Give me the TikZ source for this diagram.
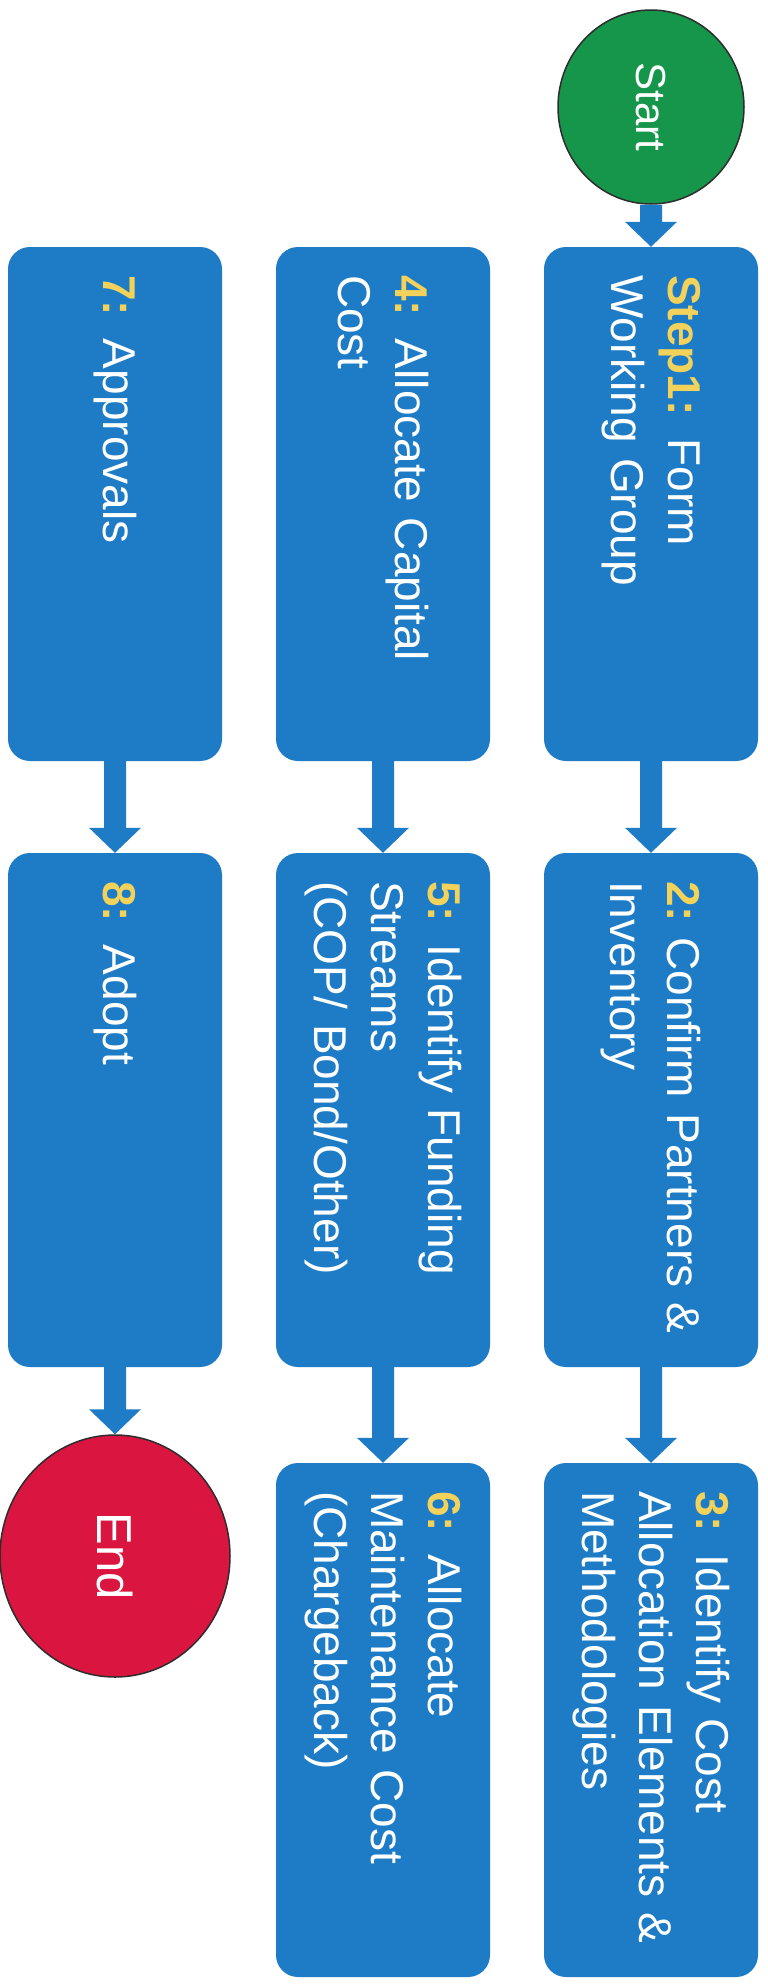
\documentclass[tikz,border=0pt]{standalone}
\usepackage{fontspec}
\setmainfont{Liberation Sans}
\usetikzlibrary{calc,shapes.geometric}
\definecolor{boxblue}{RGB}{30,124,198}
\definecolor{labyel}{RGB}{242,210,90}
\definecolor{startgreen}{RGB}{22,150,75}
\definecolor{endred}{RGB}{218,22,64}
\definecolor{rimgray}{RGB}{45,45,45}
\newcommand{\lab}[1]{\textbf{\textcolor{labyel}{#1}}}
% block arrow from page-bottom anchor #1 to page-top anchor #2 (y grows downward)
\newcommand{\blockarr}[2]{%
  \fill[arrowfill] ($(#1)+(-11,0)$) -- ($(#1)+(11,0)$) -- ($(#2)+(11,-25)$) -- ($(#2)+(26,-25)$) -- (#2) -- ($(#2)+(-26,-25)$) -- ($(#2)+(-11,-25)$) -- cycle;}
\begin{document}
\begin{tikzpicture}[x=1pt,y=-1pt,
  stepbox/.style={rotate=-90, fill=boxblue, rounded corners=22pt, text=white,
    minimum width=514pt, minimum height=214pt, text width=458pt,
    inner xsep=28pt, inner ysep=0pt, align=left,
    font=\fontsize{46}{57}\selectfont},
  termnode/.style={ellipse, rotate=-90, draw=rimgray, line width=1.5pt,
    text=white, inner sep=0pt},
  arrowfill/.style={fill=boxblue}]
\fill[white] (0,0) rectangle (768,1986);
\useasboundingbox (0,0) rectangle (768,1986);

\node[termnode, fill=startgreen, minimum width=194pt, minimum height=186pt,
  font=\fontsize{42}{50}\selectfont] (start) at (651,107) {Start};

\node[stepbox] (s1) at (651,504)  {\lab{Step1:} Form\\Working Group};
\node[stepbox] (s2) at (651,1110) {\lab{2:}~Confirm~Partners~\&\\Inventory};
\node[stepbox] (s3) at (651,1720) {\lab{3:} Identify Cost\\Allocation~Elements~\&\\Methodologies};

\node[stepbox] (s4) at (383,504)  {\lab{4:} Allocate Capital\\Cost};
\node[stepbox] (s5) at (383,1110) {\lab{5:} Identify Funding\\Streams\\(COP/ Bond/Other)};
\node[stepbox] (s6) at (383,1720) {\lab{6:} Allocate\\Maintenance Cost\\(Chargeback)};

\node[stepbox] (s7) at (115,504)  {\lab{7:} Approvals};
\node[stepbox] (s8) at (115,1110) {\lab{8:} Adopt};

\node[termnode, fill=endred, minimum width=242pt, minimum height=230pt,
  font=\fontsize{49}{58}\selectfont] (end) at (115,1556) {End};

\blockarr{start.east}{s1.west}
\blockarr{s1.east}{s2.west}
\blockarr{s2.east}{s3.west}
\blockarr{s4.east}{s5.west}
\blockarr{s5.east}{s6.west}
\blockarr{s7.east}{s8.west}
\blockarr{s8.east}{end.west}
\end{tikzpicture}
\end{document}
